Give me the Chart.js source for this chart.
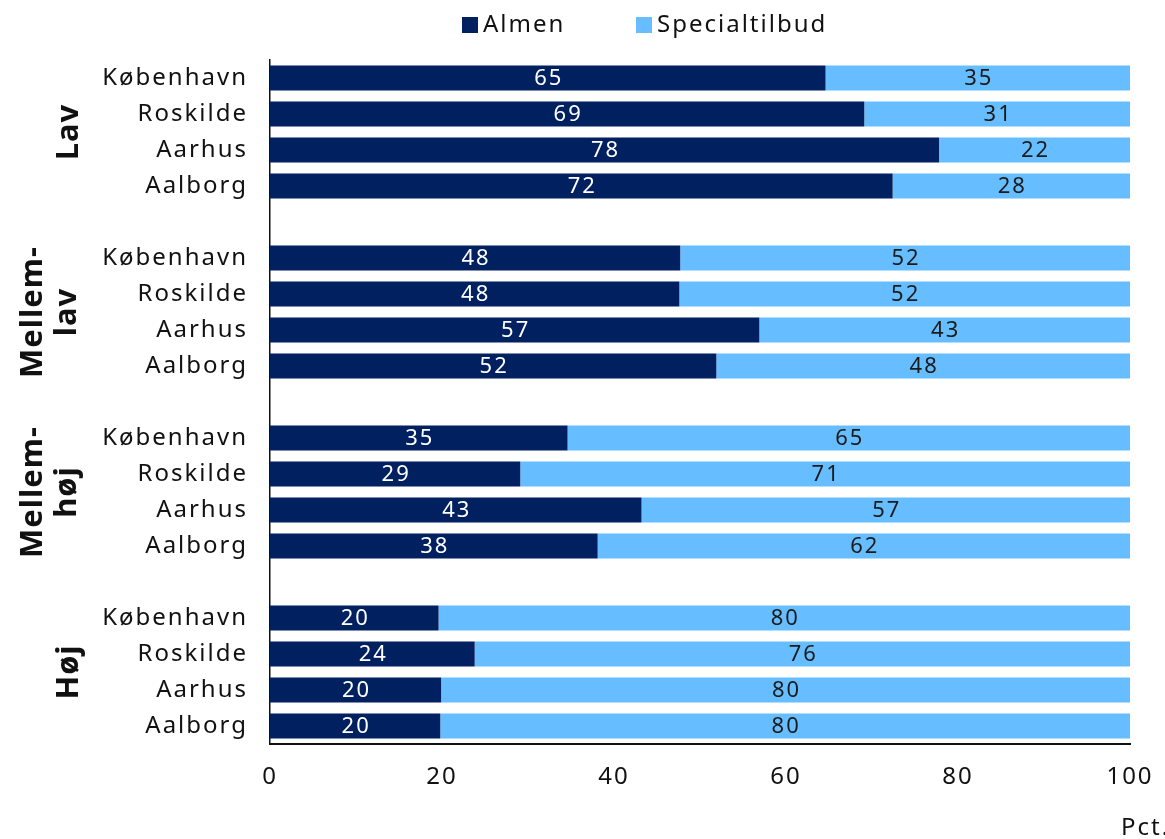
<!DOCTYPE html>
<html>
<head>
<meta charset="utf-8">
<script src="https://cdn.jsdelivr.net/npm/chart.js@4/dist/chart.umd.min.js"></script>
<style>
  html, body { margin: 0; padding: 0; background: #fff; }
  #wrap { width: 1165px; height: 839px; position: relative; }
</style>
</head>
<body>
<div id="wrap"><canvas id="chart"></canvas></div>
<script>
// Data
const groups = [['Lav'], ['Mellem-', 'lav'], ['Mellem-', 'høj'], ['Høj']];
const cities = ['København', 'Roskilde', 'Aarhus', 'Aalborg'];
const seriesNames = ['Almen', 'Specialtilbud'];
const almen = [64.6, 69.1, 77.8, 72.4, 47.7, 47.6, 56.9, 51.9, 34.6, 29.1, 43.2, 38.1, 19.6, 23.8, 19.9, 19.8];
const special = [35.4, 30.9, 22.2, 27.6, 52.3, 52.4, 43.1, 48.1, 65.4, 70.9, 56.8, 61.9, 80.4, 76.2, 80.1, 80.2];
const xTicks = [0, 20, 40, 60, 80, 100];

const colors = ['#002060', '#66BDFF'];
const labelColors = ['#ffffff', '#1b1b1b'];
const FONT = '"Noto Sans", sans-serif';

// rows with an empty row between groups
const rowLabels = [];
const almenRows = [];
const specialRows = [];
const groupRows = [];
groups.forEach((g, gi) => {
    if (gi > 0) {
        rowLabels.push('');
        almenRows.push(null);
        specialRows.push(null);
    }
    const start = rowLabels.length;
    cities.forEach((c, ci) => {
        rowLabels.push(c);
        almenRows.push(almen[gi * cities.length + ci]);
        specialRows.push(special[gi * cities.length + ci]);
    });
    groupRows.push([start, rowLabels.length - 1]);
});

// lidt bredere skrift, som i originalen
const spacing = {
    id: 'spacing',
    beforeLayout(chart) { chart.ctx.letterSpacing = '2px'; },
    beforeDraw(chart) { chart.ctx.letterSpacing = '2px'; }
};

// Tal inde i søjlerne
const valueLabels = {
    id: 'valueLabels',
    afterDatasetsDraw(chart) {
        const ctx = chart.ctx;
        ctx.save();
        ctx.font = '22px ' + FONT;
        ctx.textAlign = 'center';
        ctx.textBaseline = 'middle';
        chart.data.datasets.forEach((ds, di) => {
            const meta = chart.getDatasetMeta(di);
            ctx.fillStyle = labelColors[di];
            meta.data.forEach((bar, i) => {
                const v = ds.data[i];
                if (v == null) return;
                const p = bar.getProps(['x', 'y', 'base'], true);
                ctx.fillText(String(Math.round(v)), (p.x + p.base) / 2 + 1, p.y + 1);
            });
        });
        ctx.restore();
    }
};

// Gruppenavne, legende og enhed
const extras = {
    id: 'extras',
    afterDraw(chart) {
        const ctx = chart.ctx;
        const y = chart.scales.y;
        ctx.save();
        ctx.fillStyle = '#111';
        ctx.font = 'bold 31px ' + FONT;
        ctx.letterSpacing = '1px';
        ctx.textAlign = 'center';
        ctx.textBaseline = 'middle';
        groups.forEach((lines, gi) => {
            const [a, b] = groupRows[gi];
            const cy = (y.getPixelForValue(a) + y.getPixelForValue(b)) / 2;
            const xs = lines.length === 1 ? [69] : [33, 67];
            lines.forEach((t, li) => {
                ctx.save();
                ctx.translate(xs[li], cy);
                ctx.rotate(-Math.PI / 2);
                ctx.fillText(t, 0, 0);
                ctx.restore();
            });
        });

        // legende
        ctx.font = '24px ' + FONT;
        ctx.letterSpacing = '2px';
        ctx.textAlign = 'left';
        ctx.textBaseline = 'middle';
        const legendX = [462, 636];
        seriesNames.forEach((n, i) => {
            ctx.fillStyle = colors[i];
            ctx.fillRect(legendX[i], 17, 16, 16);
            ctx.fillStyle = '#111';
            ctx.fillText(n, legendX[i] + 21, 25);
        });

        ctx.fillText('Pct.', 1121, 828);
        ctx.restore();
    }
};

new Chart(document.getElementById('chart'), {
    type: 'bar',
    data: {
        labels: rowLabels,
        datasets: [
            { label: seriesNames[0], data: almenRows, backgroundColor: colors[0] },
            { label: seriesNames[1], data: specialRows, backgroundColor: colors[1] }
        ]
    },
    options: {
        indexAxis: 'y',
        responsive: true,
        maintainAspectRatio: false,
        animation: false,
        datasets: { bar: { barPercentage: 0.7, categoryPercentage: 1 } },
        layout: { padding: { top: 60, right: 35, bottom: 0, left: 0 } },
        plugins: {
            legend: { display: false },
            tooltip: { enabled: false }
        },
        scales: {
            x: {
                stacked: true,
                min: 0,
                max: 100,
                afterBuildTicks(scale) {
                    scale.ticks = xTicks.map(v => ({ value: v }));
                },
                afterFit(scale) {
                    scale.height = 95;
                    scale.paddingLeft = 0;
                    scale.paddingRight = 0;
                },
                grid: { display: false, drawTicks: false },
                border: { display: true, color: '#111', width: 2 },
                ticks: { color: '#111', font: { size: 24, family: FONT }, padding: 19 }
            },
            y: {
                stacked: true,
                afterFit(scale) {
                    scale.width = 270;
                    scale.paddingTop = 0;
                    scale.paddingBottom = 0;
                },
                grid: { display: false, drawTicks: false },
                border: { display: true, color: '#111', width: 1.5 },
                ticks: { color: '#111', font: { size: 24, family: FONT }, padding: 22, autoSkip: false }
            }
        }
    },
    plugins: [spacing, valueLabels, extras]
});
</script>
</body>
</html>
